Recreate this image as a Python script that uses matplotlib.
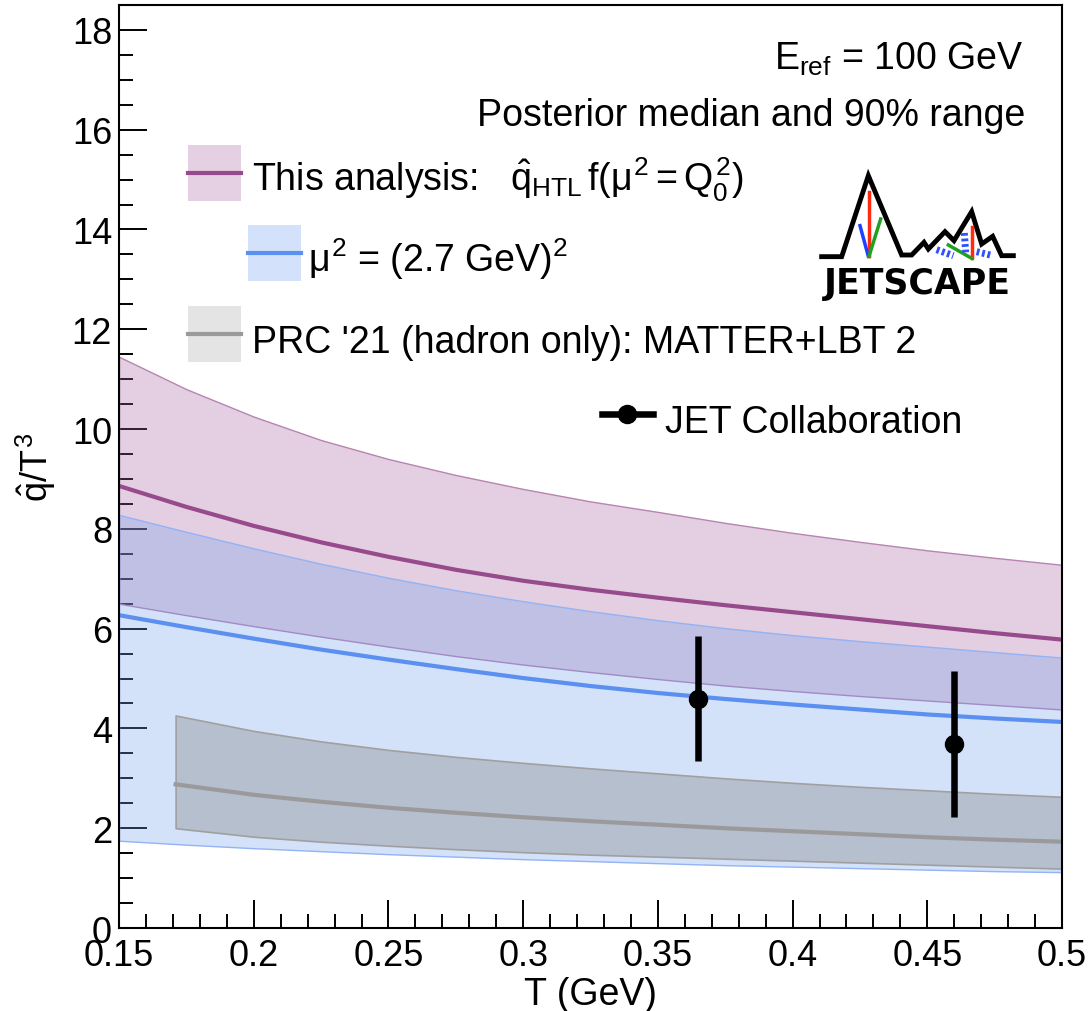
import matplotlib
matplotlib.use("Agg")
import matplotlib.pyplot as plt
from matplotlib.patches import Rectangle

plt.rcParams["font.family"] = ["Liberation Sans", "DejaVu Sans"]
plt.rcParams["mathtext.fontset"] = "custom"
plt.rcParams["mathtext.rm"] = "Liberation Sans"
plt.rcParams["mathtext.it"] = "Liberation Sans"
plt.rcParams["mathtext.bf"] = "Liberation Sans:bold"

# temperature grid (GeV)
T = [0.15, 0.175, 0.2, 0.225, 0.25, 0.275, 0.3, 0.325, 0.35, 0.375, 0.4, 0.425, 0.45, 0.475, 0.5]

# this analysis, qhat_HTL f(mu^2 = Q0^2)
htl_hi = [11.45, 10.8, 10.25, 9.78, 9.4, 9.08, 8.8, 8.55, 8.34, 8.12, 7.92, 7.74, 7.57, 7.42, 7.28]
htl_med = [8.86, 8.44, 8.06, 7.73, 7.44, 7.18, 6.96, 6.78, 6.62, 6.47, 6.33, 6.19, 6.05, 5.91, 5.78]
htl_lo = [6.5, 6.27, 6.05, 5.84, 5.64, 5.45, 5.28, 5.13, 4.99, 4.86, 4.75, 4.65, 4.56, 4.47, 4.38]

# mu^2 = (2.7 GeV)^2
mu_hi = [8.28, 7.94, 7.61, 7.3, 7.02, 6.77, 6.55, 6.35, 6.17, 6.01, 5.87, 5.75, 5.64, 5.53, 5.42]
mu_med = [6.27, 6.03, 5.8, 5.58, 5.38, 5.19, 5.01, 4.85, 4.71, 4.59, 4.48, 4.38, 4.28, 4.2, 4.13]
mu_lo = [1.75, 1.67, 1.6, 1.54, 1.48, 1.43, 1.38, 1.34, 1.3, 1.26, 1.23, 1.2, 1.17, 1.14, 1.12]

# PRC '21 (hadron only): MATTER+LBT 2
T_prc = [0.171, 0.2, 0.225, 0.25, 0.275, 0.3, 0.325, 0.35, 0.375, 0.4, 0.425, 0.45, 0.475, 0.5]
prc_hi = [4.26, 3.95, 3.74, 3.57, 3.43, 3.31, 3.2, 3.1, 3.0, 2.91, 2.83, 2.76, 2.69, 2.63]
prc_med = [2.88, 2.67, 2.53, 2.41, 2.31, 2.22, 2.14, 2.07, 2.0, 1.94, 1.88, 1.82, 1.77, 1.73]
prc_lo = [2.0, 1.83, 1.73, 1.65, 1.58, 1.52, 1.47, 1.43, 1.39, 1.35, 1.31, 1.27, 1.23, 1.19]

# JET Collaboration
jet_T = [0.365, 0.46]
jet_q = [4.59, 3.69]
jet_up = [5.86, 5.15]
jet_dn = [3.34, 2.23]

xticks = [0.15, 0.2, 0.25, 0.3, 0.35, 0.4, 0.45, 0.5]
xticklabels = ["0.15", "0.2", "0.25", "0.3", "0.35", "0.4", "0.45", "0.5"]
yticks = [0, 2, 4, 6, 8, 10, 12, 14, 16, 18]

fig = plt.figure(figsize=(10.9, 10.12), dpi=100)
ax = fig.add_axes([0.1092, 0.0820, 0.8651, 0.9121])

ax.fill_between(T, htl_lo, htl_hi, facecolor=(0.647, 0.384, 0.62, 0.3),
                edgecolor="#b884b2", linewidth=1.0, zorder=2)
ax.fill_between(T, mu_lo, mu_hi, facecolor=(0.44, 0.61, 0.933, 0.3),
                edgecolor="#93b3f5", linewidth=1.0, zorder=3)
ax.fill_between(T_prc, prc_lo, prc_hi, facecolor=(0.5, 0.5, 0.5, 0.35),
                edgecolor="#a0a0a0", linewidth=1.2, zorder=4)

ax.plot(T, htl_med, color="#974a8c", lw=3, zorder=5)
ax.plot(T, mu_med, color="#5b8ff0", lw=3, zorder=5)
ax.plot(T_prc, prc_med, color="#9a9a9a", lw=3, zorder=5)

yerr = [[q - d for q, d in zip(jet_q, jet_dn)], [u - q for q, u in zip(jet_q, jet_up)]]
ax.errorbar(jet_T, jet_q, yerr=yerr, fmt="o", color="black", ms=13,
            elinewidth=4.7, capsize=0, zorder=6)

ax.set_xlim(0.15, 0.5)
ax.set_ylim(0, 18.5)
ax.set_xticks(xticks)
ax.set_xticklabels(xticklabels)
ax.set_yticks(yticks)
ax.set_xticks([0.15 + 0.01 * i for i in range(36)], minor=True)
ax.set_yticks([0.5 * i for i in range(38)], minor=True)
ax.tick_params(which="both", direction="in", top=False, right=False, width=1.4,
               labelsize=26)
ax.tick_params(which="major", length=20)
ax.tick_params(which="minor", length=10)
ax.tick_params(axis="x", pad=7)
ax.tick_params(axis="y", pad=5)
for s in ax.spines.values():
    s.set_linewidth(1.5)
    s.set_zorder(10)

ax.set_xlabel("T (GeV)", fontsize=27, labelpad=2)
ax.set_ylabel(r"$\hat{q}/T^3$", fontsize=26, labelpad=10)

# top-right annotation
ax.text(0.9586, 0.9307, r"$E_{\rm ref}$ = 100 GeV", transform=ax.transAxes,
        ha="right", va="baseline", fontsize=27)
ax.text(0.9608, 0.870, "Posterior median and 90% range", transform=ax.transAxes,
        ha="right", va="baseline", fontsize=27)

# legend drawn by hand
def band_entry(x0, y0, fc, lc, label, tx, ty):
    ax.add_patch(Rectangle((x0, y0), 0.0562, 0.0607, transform=ax.transAxes,
                           facecolor=fc, edgecolor="none", clip_on=False, zorder=7))
    ax.plot([x0, x0 + 0.0562], [y0 + 0.0304, y0 + 0.0304], transform=ax.transAxes,
            color=lc, lw=3, clip_on=False, zorder=8)
    ax.text(tx, ty, label, transform=ax.transAxes, ha="left", va="baseline",
            fontsize=27, zorder=8)

band_entry(0.0732, 0.7877, "#e4d0e2", "#974a8c",
           r"This analysis:   $\hat{q}_{\rm HTL}\,f(\mu^2 = Q_0^2)$", 0.141, 0.7985)
band_entry(0.1368, 0.7010, "#d4e1fa", "#5b8ff0",
           r"$\mu^2$ = (2.7 GeV)$^2$", 0.2004, 0.7118)
band_entry(0.0732, 0.6132, "#e4e4e4", "#9a9a9a",
           "PRC '21 (hadron only): MATTER+LBT 2", 0.141, 0.6240)

ax.plot([0.512, 0.566], [0.5569, 0.5569], transform=ax.transAxes, color="black",
        lw=4.7, clip_on=False, zorder=8)
ax.plot([0.539], [0.5569], "o", transform=ax.transAxes, color="black", ms=13,
        clip_on=False, zorder=9)
ax.text(0.579, 0.5374, "JET Collaboration", transform=ax.transAxes, ha="left",
        va="baseline", fontsize=27, zorder=8)

# JETSCAPE logo
lg = fig.add_axes([800 / 1090, (1012 - 310) / 1012, 250 / 1090, 150 / 1012])
lg.set_xlim(0, 750)
lg.set_ylim(450, 0)
lg.axis("off")
mx = [65, 125, 205, 305, 335, 372, 385, 435, 462, 515, 545, 578, 605, 640]
my = [293, 293, 50, 288, 288, 250, 270, 218, 245, 158, 255, 232, 290, 290]
lg.plot(mx, my, color="black", lw=3.5, solid_joinstyle="miter")
lg.plot([207, 207], [100, 292], color="#ff2a10", lw=2.5)
lg.plot([180, 205], [200, 292], color="#2040ff", lw=2.5)
lg.plot([242, 207], [180, 292], color="#20a020", lw=2.5)
lg.plot([515, 515], [205, 298], color="#ff2a10", lw=2.5)
lg.plot([445, 515], [258, 298], color="#20a020", lw=2.5)
lg.plot([410, 460], [272, 290], color="#3050ff", lw=5, ls=(0, (0.4, 0.4)))
lg.plot([493, 497], [222, 280], color="#3050ff", lw=5, ls=(0, (0.4, 0.4)))
lg.plot([530, 578], [278, 290], color="#3050ff", lw=5, ls=(0, (0.4, 0.4)))
lg.text(352, 372, "JETSCAPE", ha="center", va="center", fontsize=25,
        fontweight="bold", family="DejaVu Sans")

fig.savefig("out.png", dpi=100)
